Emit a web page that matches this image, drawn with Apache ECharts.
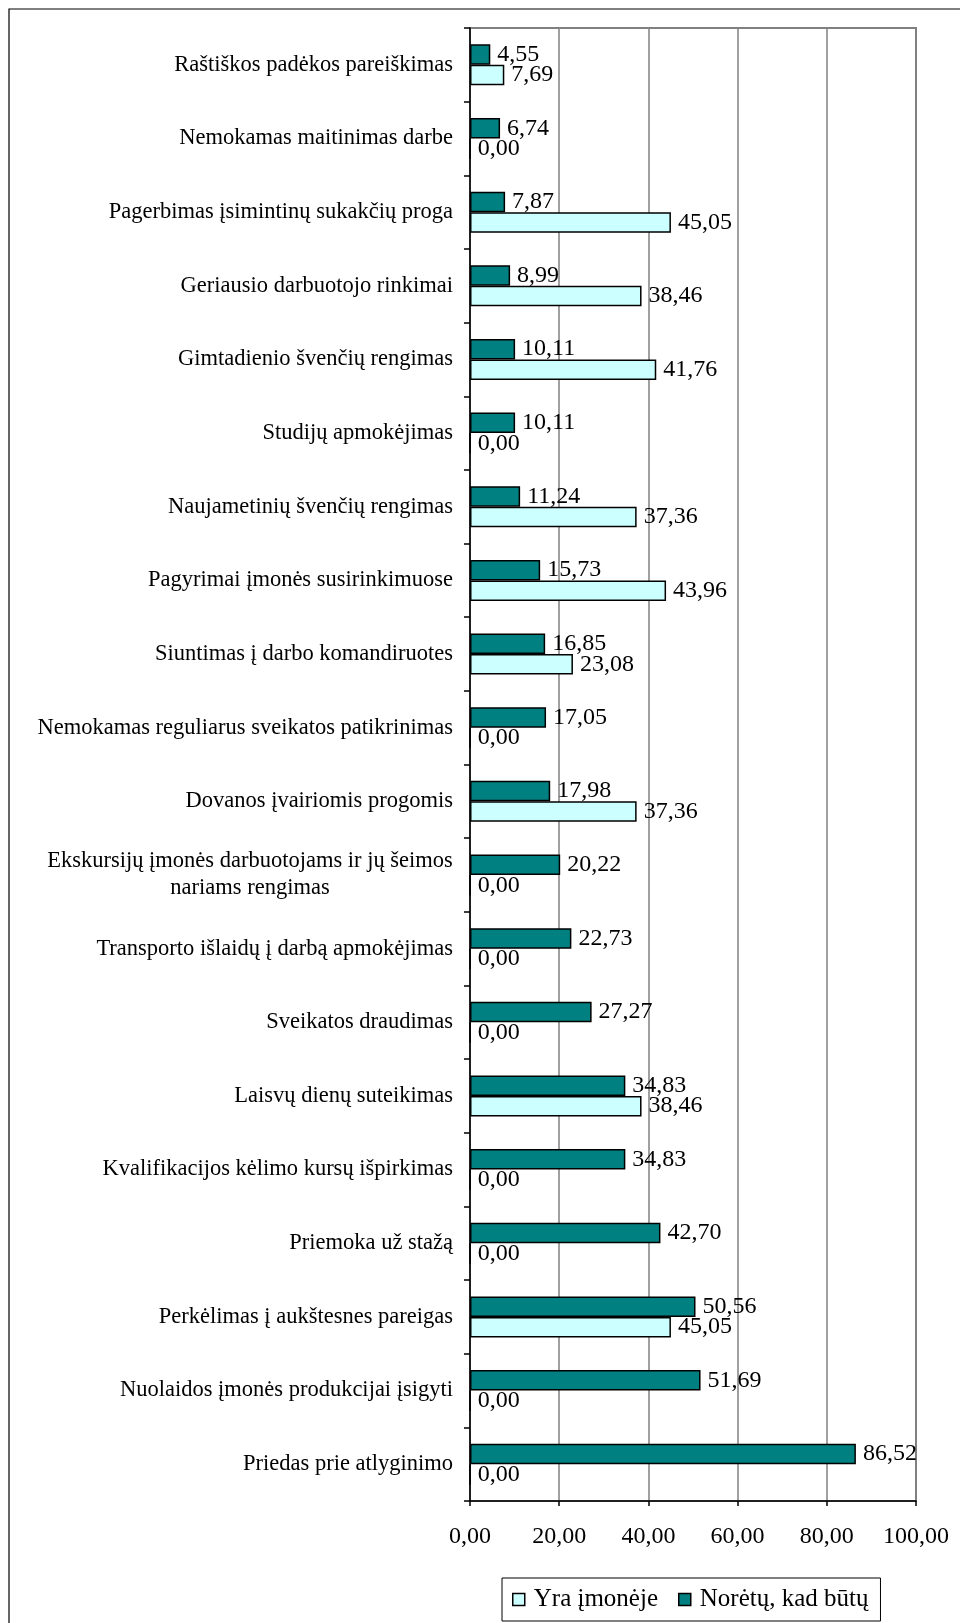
<!DOCTYPE html>
<html lang="lt">
<head>
<meta charset="utf-8">
<title>Skatinimo priemonės</title>
<script src="https://cdn.jsdelivr.net/npm/echarts@6/dist/echarts.min.js"></script>
<style>
  html, body { margin: 0; padding: 0; background: #fff; }
  #chart { width: 960px; height: 1623px; }
</style>
</head>
<body>
<div id="chart"></div>
<script>
// Motivation measures, listed top to bottom
const categories = [
  'Raštiškos padėkos pareiškimas',
  'Nemokamas maitinimas darbe',
  'Pagerbimas įsimintinų sukakčių proga',
  'Geriausio darbuotojo rinkimai',
  'Gimtadienio švenčių rengimas',
  'Studijų apmokėjimas',
  'Naujametinių švenčių rengimas',
  'Pagyrimai įmonės susirinkimuose',
  'Siuntimas į darbo komandiruotes',
  'Nemokamas reguliarus sveikatos patikrinimas',
  'Dovanos įvairiomis progomis',
  'Ekskursijų įmonės darbuotojams ir jų šeimos\nnariams rengimas',
  'Transporto išlaidų į darbą apmokėjimas',
  'Sveikatos draudimas',
  'Laisvų dienų suteikimas',
  'Kvalifikacijos kėlimo kursų išpirkimas',
  'Priemoka už stažą',
  'Perkėlimas į aukštesnes pareigas',
  'Nuolaidos įmonės produkcijai įsigyti',
  'Priedas prie atlyginimo'
];

// "Norėtų, kad būtų" (%)
const wantedValues = [
  4.55, 6.74, 7.87, 8.99, 10.11, 10.11, 11.24, 15.73, 16.85, 17.05,
  17.98, 20.22, 22.73, 27.27, 34.83, 34.83, 42.70, 50.56, 51.69, 86.52
];

// "Yra įmonėje" (%)
const existingValues = [
  7.69, 0.00, 45.05, 38.46, 41.76, 0.00, 37.36, 43.96, 23.08, 0.00,
  37.36, 0.00, 0.00, 0.00, 38.46, 0.00, 0.00, 45.05, 0.00, 0.00
];

const seriesNames = ['Yra įmonėje', 'Norėtų, kad būtų'];

// Value axis range
const axisMin = 0;
const axisMax = 100;
const axisStep = 20;

const FONT = '"Liberation Serif", "Times New Roman", serif';
const CAT_SIZE = 22.5;

const fmt = v => Number(v).toFixed(2).replace('.', ',');

// Width of a label line, used to centre the lines of multi-line category labels
const measureCtx = document.createElement('canvas').getContext('2d');
measureCtx.font = CAT_SIZE + 'px "Liberation Serif"';
function lineWidth(s) { return Math.ceil(measureCtx.measureText(s).width); }

const longestLine = categories
  .filter(c => c.indexOf('\n') >= 0)
  .reduce((acc, c) => acc.concat(c.split('\n')), [])
  .reduce((m, l) => Math.max(m, lineWidth(l)), 0);

const chart = echarts.init(document.getElementById('chart'), null, { renderer: 'canvas' });

const option = {
  backgroundColor: '#ffffff',
  animation: false,
  textStyle: { fontFamily: FONT, color: '#000' },
  graphic: [{
    type: 'rect',
    silent: true,
    shape: { x: 9, y: 9, width: 1000, height: 1700 },
    style: { fill: 'none', stroke: '#000', lineWidth: 1.2 },
    z: 100
  }],
  grid: {
    left: 470, right: 44, top: 28, bottom: 122,
    show: true,
    borderColor: '#808080',
    borderWidth: 2,
    backgroundColor: '#fff',
    containLabel: false
  },
  legend: {
    data: seriesNames,
    left: 502, top: 1578,
    orient: 'horizontal',
    icon: 'rect',
    itemWidth: 12, itemHeight: 12,
    itemGap: 20,
    padding: [9, 12, 9, 10],
    borderColor: '#000',
    borderWidth: 1,
    backgroundColor: '#fff',
    itemStyle: { borderColor: '#000', borderWidth: 1.5 },
    textStyle: { fontFamily: FONT, fontSize: 25, color: '#000', padding: [0, 0, 0, 4] }
  },
  xAxis: {
    type: 'value',
    min: axisMin, max: axisMax, interval: axisStep,
    axisLine: { show: true, onZero: false, lineStyle: { color: '#000', width: 1.5 } },
    axisTick: { show: true, length: 5, lineStyle: { color: '#000', width: 1.5 } },
    axisLabel: {
      margin: 24,
      fontFamily: FONT, fontSize: 24, color: '#000',
      formatter: v => fmt(v)
    },
    splitLine: { show: true, lineStyle: { color: '#808080', width: 1.5 } }
  },
  yAxis: {
    type: 'category',
    data: categories,
    inverse: true,
    axisLine: { show: true, lineStyle: { color: '#000', width: 1.5 } },
    axisTick: { show: true, length: 6, lineStyle: { color: '#000', width: 1.5 } },
    splitLine: { show: false },
    axisLabel: {
      margin: 17,
      fontFamily: FONT, fontSize: CAT_SIZE, color: '#000',
      formatter: function (value) {
        if (value.indexOf('\n') < 0) return value;
        return value.split('\n').map(l => '{c|' + l + '}').join('\n');
      },
      rich: {
        c: {
          fontFamily: FONT, fontSize: CAT_SIZE, color: '#000',
          lineHeight: 27, align: 'center',
          width: longestLine
        }
      }
    }
  },
  series: [
    {
      name: seriesNames[1],
      type: 'bar',
      data: wantedValues,
      barWidth: 20.5,
      barGap: '0%',
      itemStyle: { color: '#008080', borderColor: '#000', borderWidth: 1.5 },
      label: {
        show: true, position: 'right', distance: 7,
        fontFamily: FONT, fontSize: 24, color: '#000',
        formatter: p => fmt(p.value)
      }
    },
    {
      name: seriesNames[0],
      type: 'bar',
      data: existingValues,
      barWidth: 20.5,
      barGap: '0%',
      itemStyle: { color: '#CCFFFF', borderColor: '#000', borderWidth: 1.5 },
      label: {
        show: true, position: 'right', distance: 7,
        fontFamily: FONT, fontSize: 24, color: '#000',
        formatter: p => fmt(p.value)
      }
    }
  ]
};

chart.setOption(option);
</script>
</body>
</html>
